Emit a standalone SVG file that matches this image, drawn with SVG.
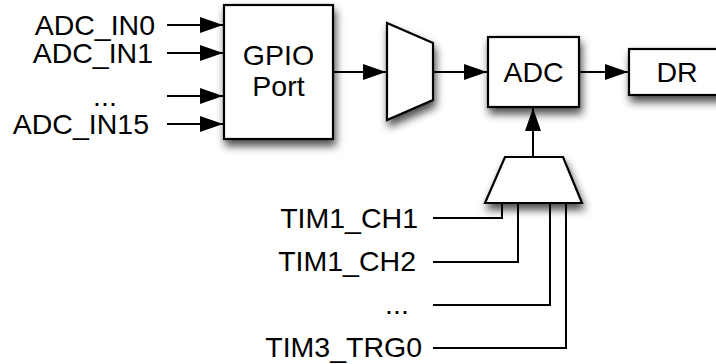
<svg xmlns="http://www.w3.org/2000/svg" width="716" height="364" viewBox="0 0 716 364">
<style>
text{font-family:"Liberation Sans",Arial,sans-serif;font-size:28.5px;fill:#000}
.shape{fill:#fff;stroke:#000;stroke-width:2.2;filter:url(#sh)}
.wire{fill:none;stroke:#000;stroke-width:2}
</style>
<defs>
<filter id="sh" x="-30%" y="-30%" width="160%" height="170%">
<feDropShadow dx="2" dy="6" stdDeviation="4" flood-color="#000" flood-opacity="0.7"/>
</filter>
<marker id="ah" viewBox="0 0 23 16" refX="23" refY="8" markerWidth="23" markerHeight="16" markerUnits="userSpaceOnUse" orient="auto">
<path d="M0,0 L23,8 L0,16 Z" fill="#000"/>
</marker>
</defs>
<rect width="716" height="364" fill="#fff"/>
<g id="labels-in">
<text x="155" y="35" text-anchor="end">ADC_IN0</text>
<text x="153" y="63" text-anchor="end">ADC_IN1</text>
<text x="105" y="106" text-anchor="middle">...</text>
<text x="149" y="134" text-anchor="end">ADC_IN15</text>
</g>
<g id="gpio">
<rect class="shape" x="224" y="5" width="109" height="134"/>
<text x="278.5" y="65" text-anchor="middle">GPIO</text>
<text x="278.5" y="96" text-anchor="middle">Port</text>
</g>
<g id="mux1">
<polygon class="shape" points="387,23 433,43 433,100 387,120"/>
</g>
<g id="adc">
<rect class="shape" x="488" y="37" width="91" height="70"/>
<text x="533.5" y="82" text-anchor="middle">ADC</text>
</g>
<g id="dr">
<rect class="shape" x="629" y="49" width="96" height="46"/>
<text x="677" y="82" text-anchor="middle">DR</text>
</g>
<g id="mux2">
<polygon class="shape" points="505,157 563,157 582,203 485,203"/>
</g>
<g id="labels-trg">
<text x="418" y="228" text-anchor="end">TIM1_CH1</text>
<text x="416" y="271" text-anchor="end">TIM1_CH2</text>
<text x="397" y="314" text-anchor="middle">...</text>
<text x="422" y="357" text-anchor="end">TIM3_TRG0</text>
</g>
<g id="connectors">
<line class="wire" x1="167" y1="25" x2="223" y2="25" marker-end="url(#ah)"/>
<line class="wire" x1="167" y1="53" x2="223" y2="53" marker-end="url(#ah)"/>
<line class="wire" x1="167" y1="96" x2="223" y2="96" marker-end="url(#ah)"/>
<line class="wire" x1="167" y1="124" x2="223" y2="124" marker-end="url(#ah)"/>
<line class="wire" x1="333" y1="72" x2="386" y2="72" marker-end="url(#ah)"/>
<line class="wire" x1="433" y1="72" x2="487" y2="72" marker-end="url(#ah)"/>
<line class="wire" x1="579" y1="72" x2="628" y2="72" marker-end="url(#ah)"/>
<line class="wire" x1="533" y1="157" x2="533" y2="108" marker-end="url(#ah)"/>
<polyline class="wire" points="433,218 502,218 502,203"/>
<polyline class="wire" points="433,262 518,262 518,203"/>
<polyline class="wire" points="433,305 550,305 550,203"/>
<polyline class="wire" points="433,348 566,348 566,203"/>
</g>
</svg>
